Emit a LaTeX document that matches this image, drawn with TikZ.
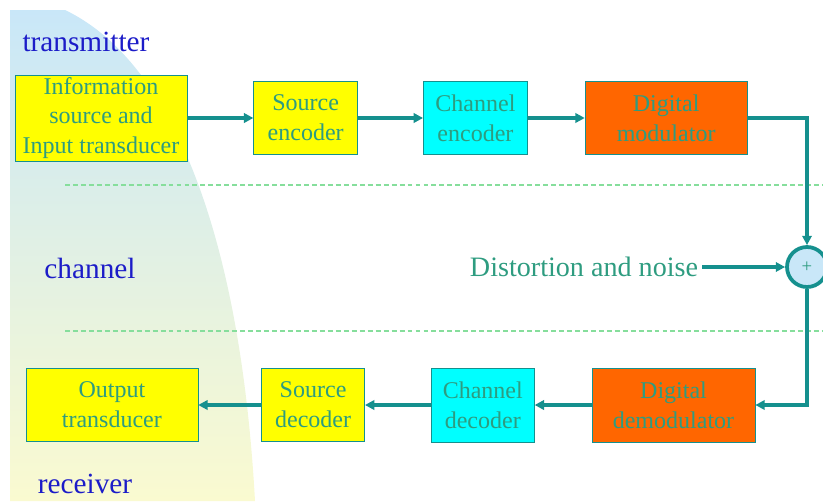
\documentclass[tikz,border=0pt]{standalone}
\usepackage{fontspec}
\setmainfont{Liberation Serif}
\usetikzlibrary{arrows.meta, positioning}
\definecolor{tealline}{HTML}{15908E}
\definecolor{tealtext}{HTML}{2E9C80}
\definecolor{labelblue}{HTML}{1C1CC8}
\definecolor{sepgreen}{HTML}{86DE9C}
\definecolor{bgblue}{HTML}{C9E7F8}
\definecolor{bgmid}{HTML}{DFF0EA}
\definecolor{bgyellow}{HTML}{FAFAD0}
\definecolor{boxyellow}{HTML}{FFFF00}
\definecolor{boxcyan}{HTML}{00FFFF}
\definecolor{modorange}{HTML}{FF6600}
\tikzset{
  block/.style={rectangle, draw=tealline, line width=0.6pt, minimum height=2.19cm, inner sep=0pt, align=center, text=tealtext, font=\fontsize{20.5}{25.5}\selectfont},
  link/.style={-{Triangle[length=8pt,width=8pt]}, line width=3.2pt, draw=tealline},
  part/.style={text=labelblue, font=\fontsize{25}{30}\selectfont},
  sep/.style={sepgreen, line width=1pt, dash pattern=on 4.2pt off 2.6pt},
}

\begin{document}
\begin{tikzpicture}[x=0.03cm, y=-0.03cm]
    \useasboundingbox (0,0) rectangle (823,501);
    % backdrop on the left
    \shade[top color=bgblue, middle color=bgmid, bottom color=bgyellow]
      (10,10) -- (65,10) .. controls (170,60) and (240,230) .. (255,501) -- (10,501) -- cycle;
    \draw[sep] (65,185) -- (823,185);
    \draw[sep] (65,331) -- (823,331);

    \node[part] (tx) at (86,42) {transmitter};
    \node[part] (chlabel) at (90,268) {channel};
    \node[part] (rx) at (85,484) {receiver};

    % transmitter row
    \node[block, fill=boxyellow, minimum width=5.16cm, minimum height=2.58cm] (info) at (101,118) {Information\\source and\\Input transducer};
    \node[block, fill=boxyellow, minimum width=3.12cm, right=1.98cm of info] (srcenc) {Source\\encoder};
    \node[block, fill=boxcyan, minimum width=3.12cm, right=1.95cm of srcenc] (chenc) {Channel\\encoder};
    \node[block, fill=modorange, minimum width=4.86cm, right=1.71cm of chenc] (mod) {Digital\\modulator};

    % channel
    \node[circle, draw=tealline, line width=3.2pt, fill=bgblue, minimum size=1.2cm, inner sep=0pt, text=tealtext, font=\fontsize{16}{16}\selectfont] (sum) at (807,267) {+};
    \node[text=tealtext, font=\fontsize{24}{28}\selectfont] (noise) at (584,267) {Distortion and noise};

    % receiver row
    \node[block, fill=modorange, minimum width=4.89cm, minimum height=2.22cm] (demod) at (673.5,405) {Digital\\demodulator};
    \node[block, fill=boxcyan, minimum width=3.09cm, minimum height=2.22cm, left=1.71cm of demod] (chdec) {Channel\\decoder};
    \node[block, fill=boxyellow, minimum width=3.09cm, left=1.98cm of chdec] (srcdec) {Source\\decoder};
    \node[block, fill=boxyellow, minimum width=5.16cm, left=1.89cm of srcdec] (out) {Output\\transducer};

    \draw[link] (info) -- (srcenc);
    \draw[link] (srcenc) -- (chenc);
    \draw[link] (chenc) -- (mod);
    \draw[link] (mod.east) -| (sum.north);
    \draw[link] (noise) -- (sum);
    \draw[link] (sum.south) |- (demod.east);
    \draw[link] (demod) -- (chdec);
    \draw[link] (chdec) -- (srcdec);
    \draw[link] (srcdec) -- (out);
  \end{tikzpicture}
\end{document}
